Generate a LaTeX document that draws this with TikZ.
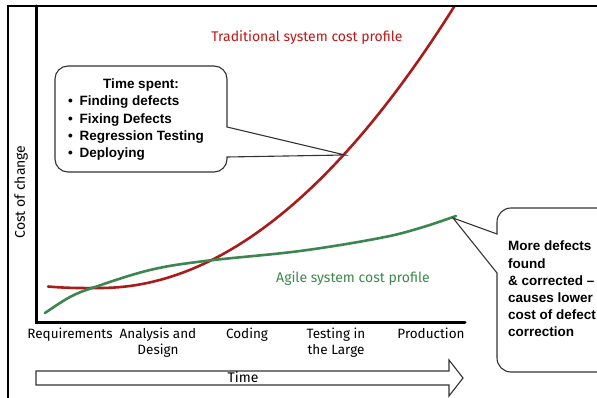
\documentclass[tikz,border=0pt]{standalone}
\usepackage{fontspec}
\setmainfont{Liberation Sans}
\newfontfamily\comicfont{Fira Sans}
\usetikzlibrary{calc}
\definecolor{tradred}{HTML}{A81C1C}
\definecolor{tradtext}{HTML}{C01818}
\definecolor{agilegreen}{HTML}{3E8650}
\definecolor{agiletext}{HTML}{3E8A4C}
\tikzset{
  axisline/.style={line width=3pt, line cap=round},
  frameline/.style={line width=1.3pt},
  costcurve/.style={line width=2.6pt, line cap=round},
  calloutbox/.style={draw=black!80, line width=1.1pt, fill=white},
  phaselabel/.style={font=\comicfont\fontsize{13.5}{16}\selectfont, align=center, anchor=north},
  comiclabel/.style={font=\comicfont\fontsize{14}{16}\selectfont},
  callouttext/.style={font=\bfseries\fontsize{13.5}{17.2}\selectfont, align=left},
}
\begin{document}
\begin{tikzpicture}[x=1pt,y=-1pt]
\useasboundingbox (0,0) rectangle (597,398);
\fill[white] (0,0) rectangle (597,398);
% curves
\begin{scope}
\clip (8,6) rectangle (597,398);
\draw[costcurve, tradred] (48,286.5) .. controls (70,288.5) and (90,288) .. (100,288)
  -- plot[domain=100:456, samples=60] (\x, {288-0.00225*(\x-100)*(\x-100)});
\end{scope}
\draw[costcurve, agilegreen] plot[smooth, tension=0.6] coordinates {(45,313) (70,297) (95,287) (150,270) (205,261) (300,251) (380,238) (420,228) (456,216)};
% outer frame
\draw[frameline] (8,398) -- (8,6) -- (597,6);
% axes
\coordinate (ytop) at (36,6);
\coordinate (origin) at (36,322);
\coordinate (xend) at (465,322);
\draw[axisline] (ytop) -- (origin) -- (xend);
\node[comiclabel, rotate=90] (ylab) at (21,192) {Cost of change};

\node[comiclabel, text=tradtext] (tradlab) at (307,38) {Traditional system cost profile};
\node[comiclabel, text=agiletext] (agilelab) at (353,279) {Agile system cost profile};

% callout 1
\coordinate (tip1) at (345,155);
\draw[calloutbox] (141,172) [rounded corners=13] -- (55,172) -- (55,66) -- (227,66) [sharp corners] -- (227,127) -- (tip1) -- (227,157) [rounded corners=13] -- (227,172) -- cycle;
\node[font=\bfseries\fontsize{13.5}{16}\selectfont] (timespent) at (141,85) {Time spent:};
\node[callouttext, anchor=north west, inner sep=0pt] (bullets) at (68,96) {%
\textbullet\enspace Finding defects\\
\textbullet\enspace Fixing Defects\\
\textbullet\enspace Regression Testing\\
\textbullet\enspace Deploying};

% callout 2
\coordinate (tip2) at (453,218);
\draw[calloutbox] (497,273) [rounded corners=14] -- (497,372) -- (630,372) -- (630,208) -- (497,208) [sharp corners] -- (497,234) -- (tip2) -- cycle;
\node[callouttext, anchor=north west, inner sep=0pt] (defects) at (508,241) {%
More defects\\
found\\
\& corrected --\\
causes lower\\
cost of defect\\
correction};

% phase labels
\node[phaselabel] (req) at (70,324) {Requirements};
\node[phaselabel] (ana) at (158,324) {Analysis and\\Design};
\node[phaselabel] (cod) at (247,324) {Coding};
\node[phaselabel] (tes) at (336,324) {Testing in\\the Large};
\node[phaselabel] (pro) at (431,324) {Production};

% time arrow
\draw[line width=1.1pt, black!80, fill=white] (36,371) -- (449,371) -- (449,360) -- (463,378) -- (449,396) -- (449,385) -- (36,385) -- cycle;
\node[comiclabel] (timelab) at (243,377) {Time};
\end{tikzpicture}
\end{document}
